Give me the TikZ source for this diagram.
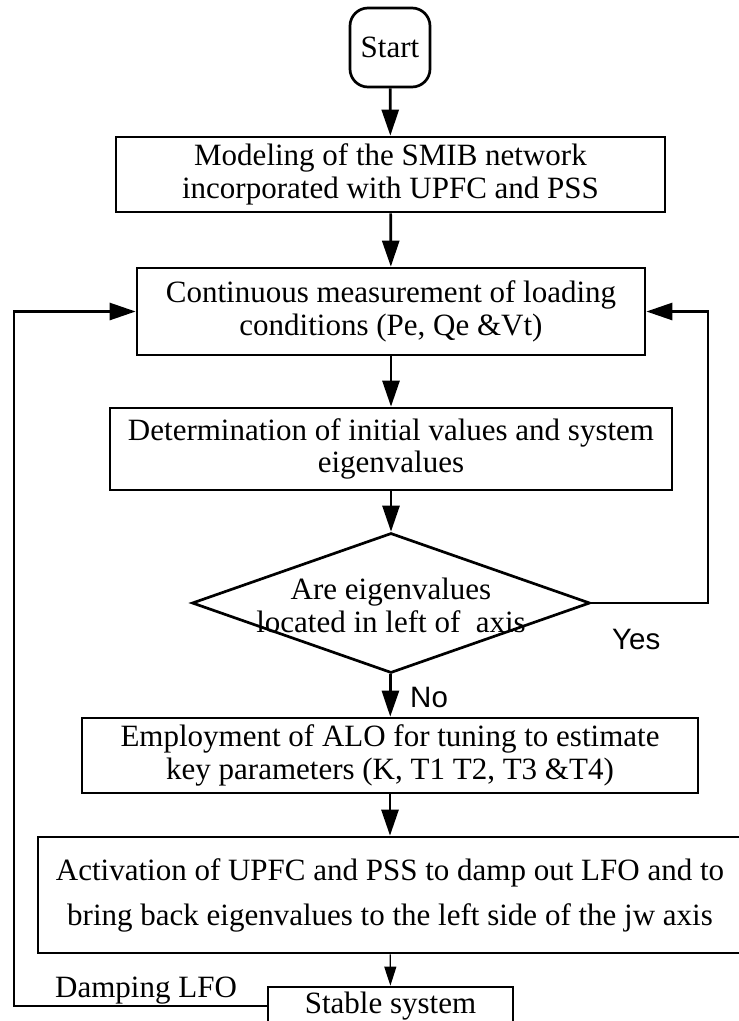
\documentclass[tikz,border=0pt]{standalone}
\usepackage{fontspec}
\setmainfont{Liberation Serif}
\newfontfamily\labelfont{Liberation Sans}
\usetikzlibrary{arrows.meta,shapes.geometric}
\begin{document}
\begin{tikzpicture}[x=1pt,y=-1pt,
  box/.style={draw, line width=2.7pt, inner sep=0pt, align=center,
    font=\fontsize{31}{32.5}\selectfont},
  flow/.style={line width=2.7pt, -{Triangle[length=26pt,width=17pt]}},
  thinflow/.style={line width=1.2pt, -{Triangle[length=19pt,width=12pt]}},
  lbl/.style={inner sep=0pt, font=\labelfont\fontsize{29.5}{32}\selectfont},
  txt/.style={inner sep=0pt, align=center, font=\fontsize{31}{33}\selectfont}]
\useasboundingbox (0,0) rectangle (739,1021);
\node[box, rounded corners=18pt, minimum width=80pt, minimum height=79pt] (start) at (390,47.5) {Start};
\node[box, minimum width=549pt, minimum height=75pt] (model) at (390.5,174.5)
  {Modeling of the SMIB network\\incorporated with UPFC and PSS};
\node[box, minimum width=508pt, minimum height=87pt] (meas) at (391,311.5)
  {Continuous measurement of loading\\conditions (Pe, Qe \&Vt)};
\node[box, minimum width=562pt, minimum height=82pt] (det) at (391,449)
  {Determination of initial values and system\\eigenvalues};
\node[draw, diamond, line width=2.7pt, minimum width=398pt, minimum height=140pt, inner sep=0pt] (dec) at (391,603) {};
\node[txt] (dectext) at (391,605) {Are eigenvalues\\located in left of~ axis};
\node[box, minimum width=616pt, minimum height=75pt] (tune) at (390,755.5)
  {Employment of ALO for tuning to estimate\\key parameters (K, T1 T2, T3 \&T4)};
\node[box, minimum width=704pt, minimum height=116pt, font=\fontsize{31}{45}\selectfont] (act) at (390,895)
  {Activation of UPFC and PSS to damp out LFO and to\\bring back eigenvalues to the left side of the jw axis};
\node[box, minimum width=245pt, minimum height=38pt] (stable) at (390.5,1006) {Stable system};
\node[lbl, anchor=base west] (no) at (410,707) {No};
\node[lbl, anchor=base west] (yes) at (612,649) {Yes};
\node[txt, anchor=base west] (damp) at (55,997) {Damping LFO};
\coordinate (rturn) at (708,603);
\coordinate (lturn) at (14,1006);
\draw[flow] (start) -- (model);
\draw[flow] (model) -- (meas);
\draw[flow] (meas) -- (det);
\draw[flow] (det) -- (dec);
\draw[flow] (dec) -- (tune);
\draw[flow] (tune) -- (act);
\draw[thinflow] (act) -- (stable);
\draw[flow] (dec.east) -- (rturn) |- (meas.east);
\draw[flow] (stable.west) -- (lturn) |- (meas.west);
\end{tikzpicture}
\end{document}
